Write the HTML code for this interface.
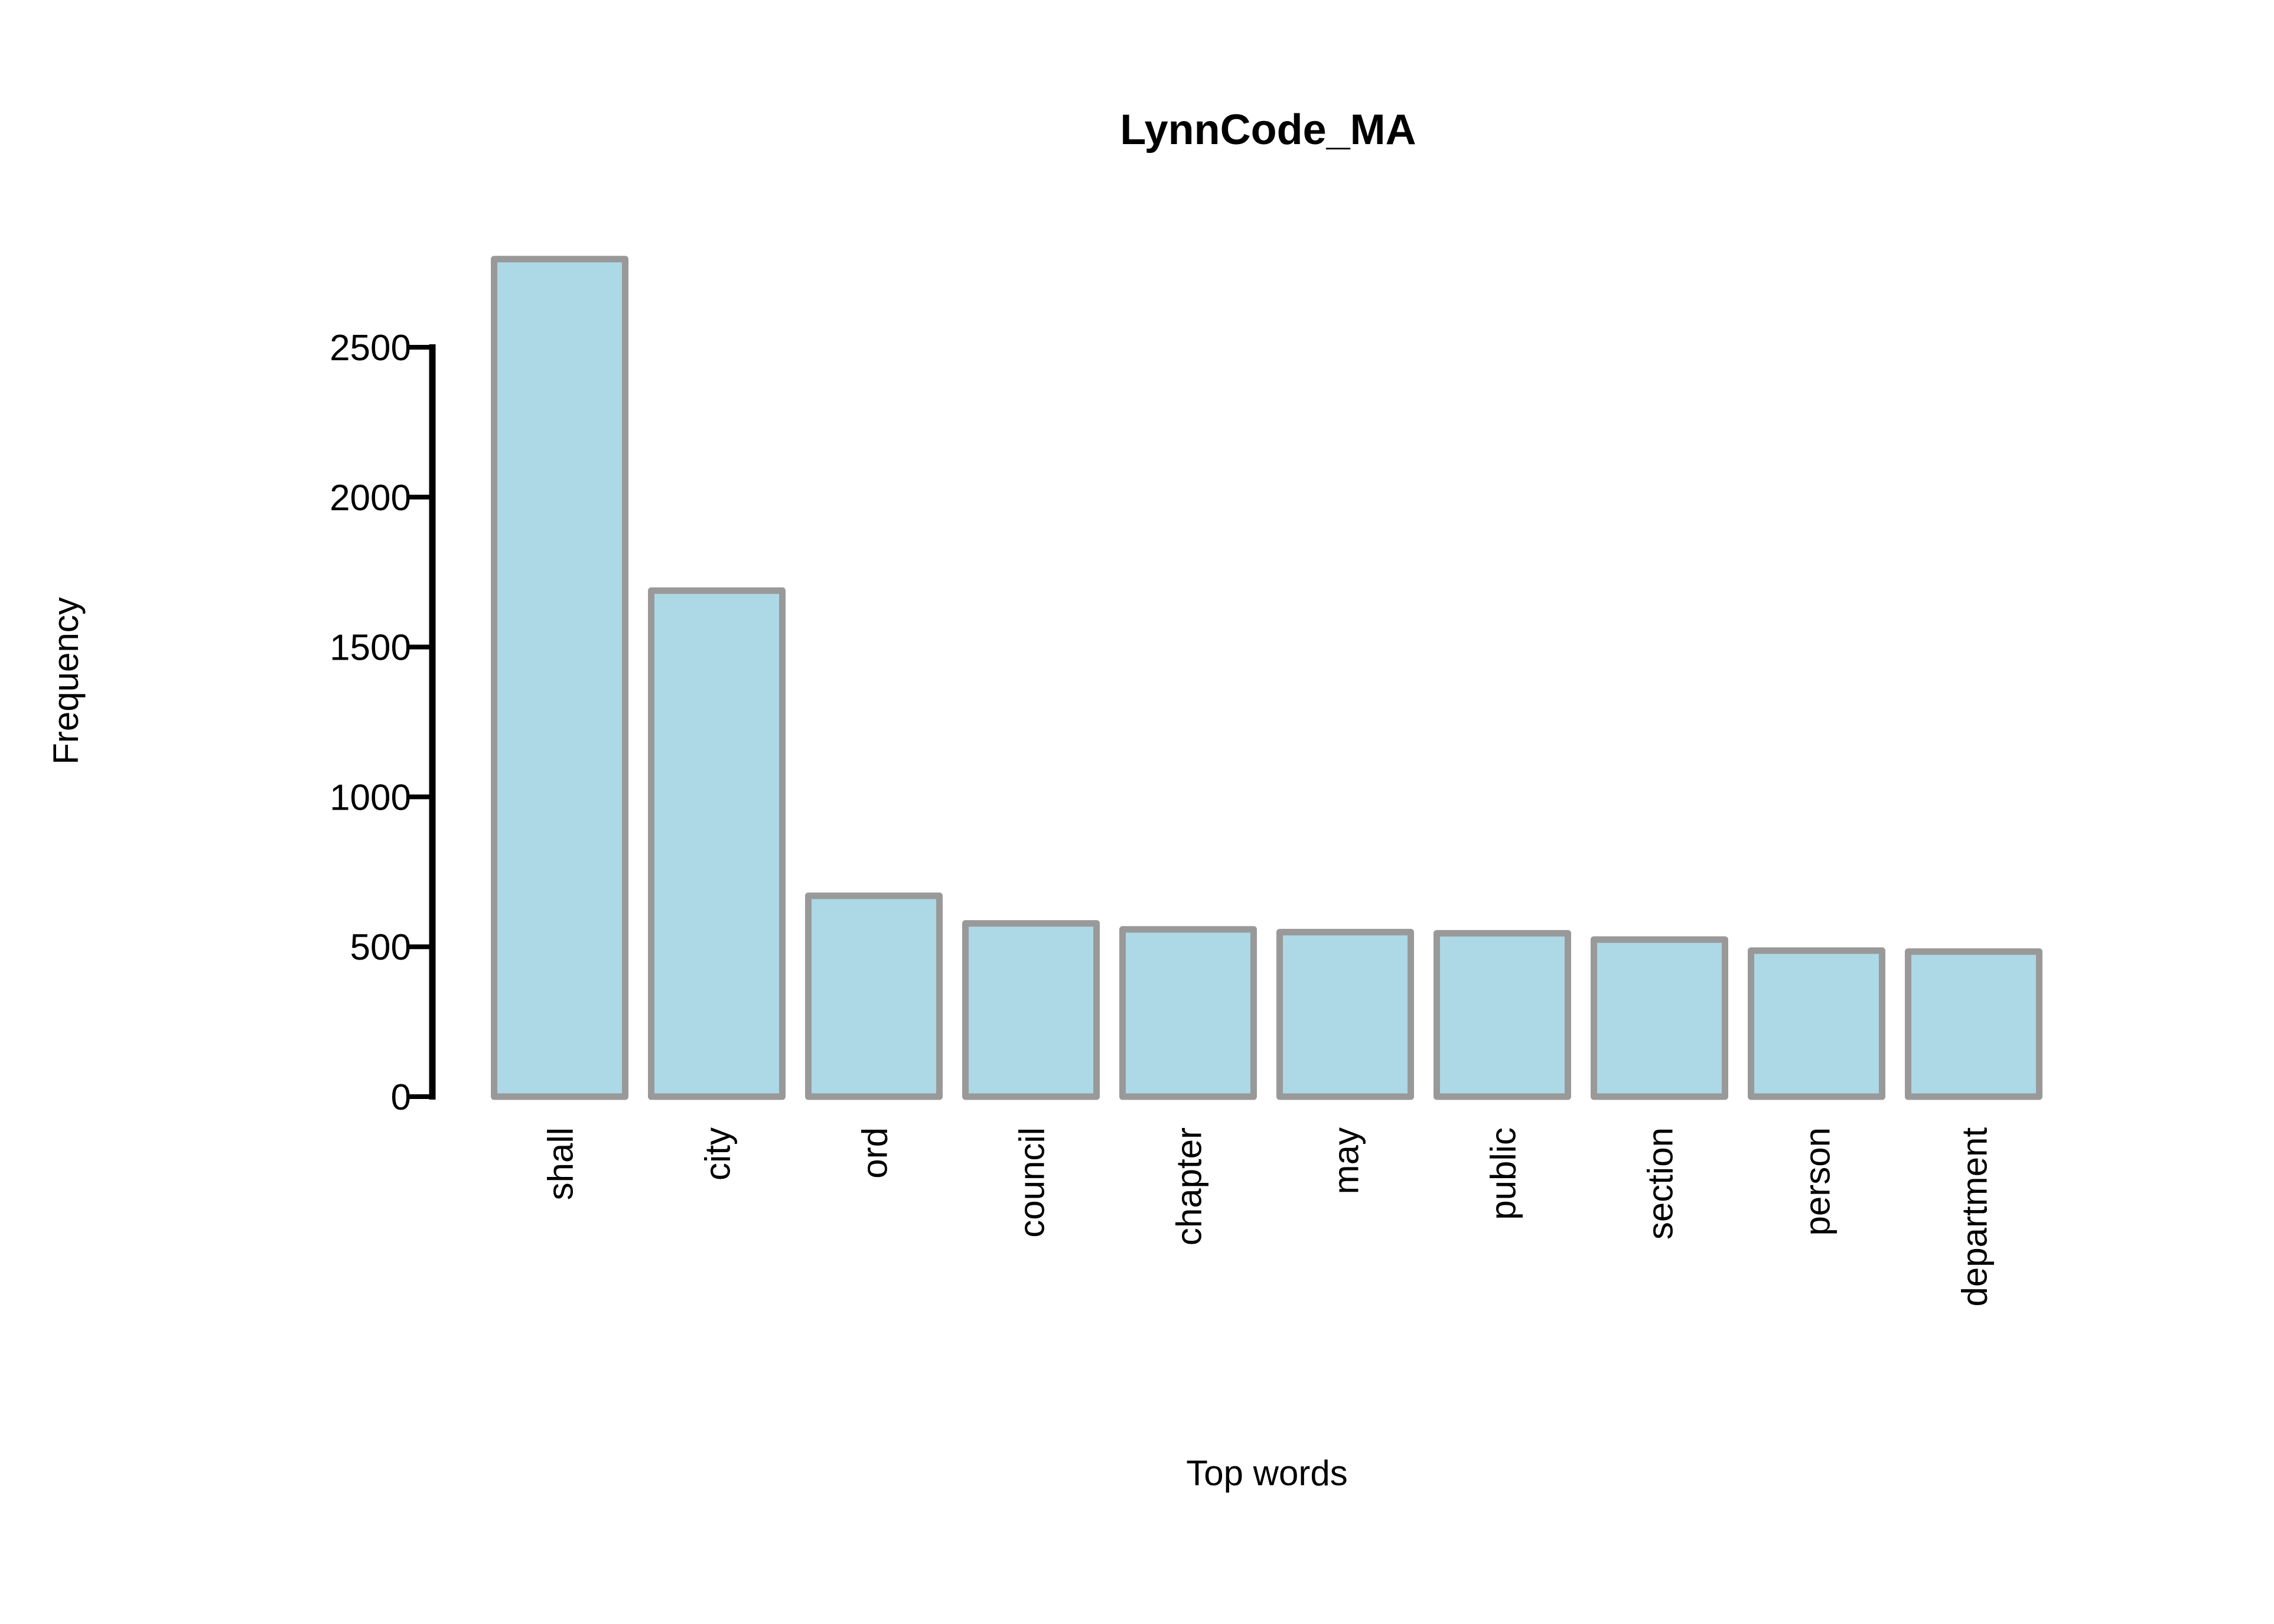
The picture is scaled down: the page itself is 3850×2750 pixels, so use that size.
<!DOCTYPE html>
<html><head><meta charset="utf-8"><style>
html,body{margin:0;padding:0;background:#fff;}
svg{display:block;font-family:"Liberation Sans",Arial,sans-serif;}
</style></head><body>
<svg id="chart" width="3850" height="2750" viewBox="0 0 3850 2750">
<text x="2147" y="244" font-size="72" font-weight="bold" text-anchor="middle">LynnCode_MA</text>
<text transform="translate(132,1153) rotate(-90)" font-size="60" text-anchor="middle">Frequency</text>
<text x="2145" y="2515" font-size="60" text-anchor="middle">Top words</text>
<g id="bars"></g>
<g id="yaxis"></g>
<g id="xlabels"></g>
</svg>
<script>
const categories = ["shall","city","ord","council","chapter","may","public","section","person","department"];
const values = [2794, 1688, 670, 578, 558, 549, 545, 524, 487, 484];
const yTicks = [0, 500, 1000, 1500, 2000, 2500];

const NS = "http://www.w3.org/2000/svg";
const y0 = 1857, pxPerUnit = 1269 / 2500;
function yScale(v){ return y0 - v * pxPerUnit; }
const xStart = 836.5, pitch = 266, barW = 222;
function xScale(i){ return xStart + i * pitch; }

const bars = document.getElementById('bars');
const xl = document.getElementById('xlabels');
categories.forEach((c, i) => {
  const r = document.createElementNS(NS, 'rect');
  r.setAttribute('x', xScale(i));
  r.setAttribute('y', yScale(values[i]));
  r.setAttribute('width', barW);
  r.setAttribute('height', y0 - yScale(values[i]));
  r.setAttribute('fill', '#add8e6');
  r.setAttribute('stroke', '#999999');
  r.setAttribute('stroke-width', '11');
  r.setAttribute('stroke-linejoin', 'round');
  
  
  bars.appendChild(r);
  const t = document.createElementNS(NS, 'text');
  const cx = xScale(i) + barW / 2 + 22;
  t.setAttribute('transform', 'translate(' + cx + ',1909) rotate(-90)');
  t.setAttribute('font-size', '60');
  t.setAttribute('text-anchor', 'end');
  t.textContent = c;
  
  
  xl.appendChild(t);
});

const ya = document.getElementById('yaxis');
const axis = document.createElementNS(NS, 'line');
axis.setAttribute('x1', 732); axis.setAttribute('x2', 732);
axis.setAttribute('y1', yScale(yTicks[yTicks.length-1]) - 5);
axis.setAttribute('y2', yScale(0) + 5);
axis.setAttribute('stroke', '#000'); axis.setAttribute('stroke-width', '11');


ya.appendChild(axis);
yTicks.forEach(v => {
  const l = document.createElementNS(NS, 'line');
  l.setAttribute('x1', 692); l.setAttribute('x2', 732);
  l.setAttribute('y1', yScale(v)); l.setAttribute('y2', yScale(v));
  l.setAttribute('stroke', '#000'); l.setAttribute('stroke-width', '8');
  
  
  ya.appendChild(l);
  const t = document.createElementNS(NS, 'text');
  t.setAttribute('x', 696); t.setAttribute('y', yScale(v) + 22);
  t.setAttribute('font-size', '62'); t.setAttribute('text-anchor', 'end');
  t.textContent = v;
  
  
  ya.appendChild(t);
});
</script>
</body></html>
